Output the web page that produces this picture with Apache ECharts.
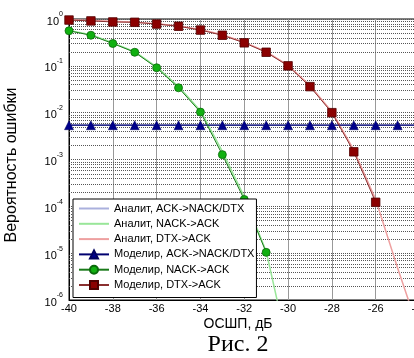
<!DOCTYPE html>
<html><head><meta charset="utf-8">
<script src="https://cdn.jsdelivr.net/npm/echarts@6/dist/echarts.min.js"></script>
<style>html,body{margin:0;padding:0;background:#fff}#c{width:414px;height:358px}</style>
</head><body><div id="c"></div>
<script>
const snr = [-40,-39,-38,-37,-36,-35,-34,-33,-32,-31,-30,-29,-28,-27,-26,-25,-24];
const anaACK = [0.0054,0.0054,0.0054,0.0054,0.0054,0.0054,0.0054,0.0054,0.0054,0.0054,0.0054,0.0054,0.0054,0.0054,0.0054,0.0054,0.0054];
const anaNACK = [0.57,0.46,0.31,0.20,0.095,0.036,0.011,0.0015,0.00016,0.000011,9e-8];
const anaDTX = [0.96,0.93,0.89,0.85,0.79,0.71,0.60,0.46,0.32,0.20,0.103,0.038,0.0105,0.0016,0.00014,0.0000048,2e-7];
const simACK = [0.0054,0.0054,0.0054,0.0054,0.0054,0.0054,0.0054,0.0054,0.0054,0.0054,0.0054,0.0054,0.0054,0.0054,0.0054,0.0054,0.0054];
const simNACK = [0.56,0.45,0.30,0.195,0.091,0.034,0.0103,0.00127,0.00014,0.0000104];
const simDTX = [0.95,0.91,0.865,0.85,0.78,0.70,0.58,0.45,0.31,0.195,0.10,0.036,0.0100,0.00146,0.000122];
const minorFactors = [2,3,4,5,6,7,8,9];
const decades = [-6,-5,-4,-3,-2,-1];
const xMin = -40, xMax = -24;

const pairs = (ys) => ys.map((v,i)=>[snr[i], v]);
const gridVals = [];
decades.forEach(d => minorFactors.forEach(k => gridVals.push([xMin, k*Math.pow(10,d)])));

const FONT = 'Liberation Sans';
const chart = echarts.init(document.getElementById('c'), null, {renderer:'canvas'});
chart.setOption({
  animation:false,
  backgroundColor:'#fff',
  textStyle:{fontFamily:FONT},
  grid:{left:69, top:19, right:-5.5, bottom:58, outerBoundsMode:'none', containLabel:false,
    show:true, borderColor:'#000', borderWidth:1, backgroundColor:'#fff'},
  xAxis:{type:'value', min:xMin, max:xMax, interval:2,
    axisLine:{onZero:false, lineStyle:{color:'#000'}},
    axisTick:{show:false},
    axisLabel:{color:'#000', fontSize:11, margin:3, fontFamily:FONT},
    splitLine:{show:true, lineStyle:{color:'#999', width:1}}},
  yAxis:{type:'log', logBase:10, min:1e-6, max:1,
    axisLine:{show:true, lineStyle:{color:'#000'}},
    axisTick:{show:false},
    axisLabel:{margin:6, formatter:(v)=>{const e=Math.round(Math.log10(v)); return '{b|10}{s|'+e+'}';},
      rich:{b:{fontSize:11, color:'#000', fontFamily:FONT, verticalAlign:'bottom', lineHeight:16},
            s:{fontSize:7, color:'#000', fontFamily:FONT, verticalAlign:'top', lineHeight:16}}},
    splitLine:{show:true, lineStyle:{color:'#555', type:[1,1], width:1}}},
  legend:{orient:'vertical', left:73, top:199, itemWidth:30, itemHeight:10, itemGap:4.3,
    padding:[4,2,7,5], borderColor:'#000', borderWidth:1, backgroundColor:'#fff', z:20,
    textStyle:{fontSize:11, color:'#000', fontFamily:FONT, width:136, overflow:'none'},
    data:[
      {name:'Аналит, ACK->NACK/DTX', itemStyle:{opacity:0}},
      {name:'Аналит, NACK->ACK', itemStyle:{opacity:0}},
      {name:'Аналит, DTX->ACK', itemStyle:{opacity:0}},
      'Моделир, ACK->NACK/DTX','Моделир, NACK->ACK','Моделир, DTX->ACK']},
  series:[
    {name:'_grid', type:'custom', data:gridVals, z:1, silent:true, encode:{x:0, y:1},
      renderItem:(params, api)=>{
        const a = api.coord([xMin, api.value(1)]);
        const b = api.coord([xMax, api.value(1)]);
        const y = Math.round(a[1]) + 0.5;
        return {type:'line', shape:{x1:a[0], y1:y, x2:b[0], y2:y},
          style:{stroke:'#555', lineWidth:1, lineDash:[1,1]}};
      }},
    {name:'Аналит, ACK->NACK/DTX', type:'line', data:pairs(anaACK), symbol:'none', z:3,
      lineStyle:{color:'#aab0dd', width:1.5}, itemStyle:{color:'#aab0dd'}},
    {name:'Аналит, NACK->ACK', type:'line', data:pairs(anaNACK), symbol:'none', z:3,
      lineStyle:{color:'#99e699', width:1.5}, itemStyle:{color:'#99e699'}},
    {name:'Аналит, DTX->ACK', type:'line', data:pairs(anaDTX), symbol:'none', z:3,
      lineStyle:{color:'#eea0a0', width:1.5}, itemStyle:{color:'#eea0a0'}},
    {name:'Моделир, ACK->NACK/DTX', type:'line', data:pairs(simACK), symbol:'triangle', symbolSize:9, z:4,
      lineStyle:{color:'#000070', width:1.2}, itemStyle:{color:'#00008b', borderColor:'#000060', borderWidth:0.5}},
    {name:'Моделир, NACK->ACK', type:'line', data:pairs(simNACK), symbol:'circle', symbolSize:8, z:4,
      lineStyle:{color:'#1a7a1a', width:1}, itemStyle:{color:'#10b010', borderColor:'#0a6a0a', borderWidth:0.8}},
    {name:'Моделир, DTX->ACK', type:'line', data:pairs(simDTX), symbol:'rect', symbolSize:8.5, z:4,
      lineStyle:{color:'#8a3030', width:1}, itemStyle:{color:'#8b0000', borderColor:'#500000', borderWidth:0.8}}
  ],
  graphic:[
    {type:'text', x:12, y:165, rotation:Math.PI/2, z:10,
      style:{text:'Вероятность ошибки', font:'16px "Liberation Sans"', fill:'#000', textAlign:'center', textVerticalAlign:'middle'}},
    {type:'text', x:238, y:324, z:10,
      style:{text:'ОСШП, дБ', font:'14px "Liberation Sans"', fill:'#000', textAlign:'center', textVerticalAlign:'middle'}},
    {type:'text', x:238, y:345, z:10,
      style:{text:'Рис. 2', font:'24px "Liberation Serif"', fill:'#000', textAlign:'center', textVerticalAlign:'middle'}}
  ]
});
</script></body></html>
